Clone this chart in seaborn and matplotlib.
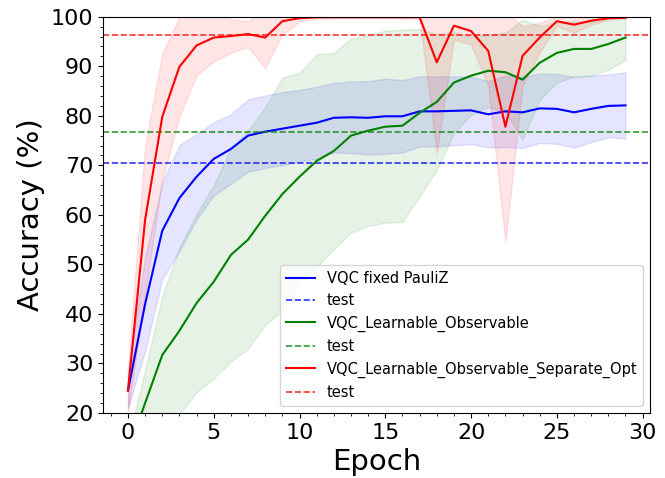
import numpy as np
import matplotlib
matplotlib.use("Agg")
import matplotlib.pyplot as plt
from matplotlib.ticker import MultipleLocator
import seaborn as sns

# Mean accuracy per epoch and spread (std) for each model
epochs = np.arange(30)

fixed_mean = [24.5, 42, 56.8, 63.4, 67.7, 71.3, 73.3, 76, 76.8, 77.4, 78, 78.6, 79.6, 79.7, 79.6,
              79.9, 79.9, 80.9, 80.9, 81, 81.1, 80.3, 80.9, 80.7, 81.5, 81.4, 80.7, 81.4, 82, 82.1]
fixed_std = [3.5, 9.5, 9.8, 10.7, 8.6, 7.4, 7, 7.3, 7.3, 7.4, 7.2, 7.3, 7, 7.25, 7.4,
             7.6, 7.3, 7.1, 7.05, 6.95, 6.8, 6.7, 7.2, 7.2, 7, 7.05, 7.15, 6.7, 6.35, 6.65]

learn_mean = [12, 22, 31.7, 36.6, 42.2, 46.5, 51.9, 55, 59.8, 64.2, 67.7, 70.9, 72.9, 76, 77,
              77.8, 78, 80.6, 82.8, 86.7, 88.1, 89.1, 88.8, 87.3, 90.7, 92.7, 93.5, 93.5, 94.5, 95.8]
learn_std = [2.4, 6.7, 12, 16.8, 18, 19.5, 21.5, 22, 22, 23.5, 21, 21.5, 19.8, 19.6, 19.2,
             19.4, 19.4, 16.9, 13.7, 10.2, 7.9, 7.3, 8, 12.1, 7.5, 6, 5.6, 5.4, 5.2, 4.5]

sep_mean = [24.5, 59, 79.8, 89.9, 94.2, 95.8, 96.1, 96.5, 95.8, 99.1, 99.7, 99.9, 99.9, 99.9, 99.9,
            99.9, 99.9, 99.9, 90.8, 98.2, 97.1, 93.1, 77.8, 92.1, 95.8, 99.1, 98.4, 99.2, 99.7, 99.8]
sep_std = [4.5, 15, 12.8, 10, 6, 4.8, 3.4, 2.6, 6.2, 2.7, 0.6, 0.3, 0.2, 0.2, 0.2,
           0.2, 0.2, 0.3, 18.3, 2.8, 2.7, 7, 23.2, 6, 3, 1, 1.6, 0.8, 0.3, 0.2]

# test accuracy of each model
test_acc = [70.5, 76.8, 96.4]

labels = ["VQC fixed PauliZ", "VQC_Learnable_Observable", "VQC_Learnable_Observable_Separate_Opt"]
colors = ["blue", "green", "red"]
means = [fixed_mean, learn_mean, sep_mean]
stds = [fixed_std, learn_std, sep_std]

fig = plt.figure(figsize=(6.65, 4.78), dpi=100)
ax = fig.add_axes([0.155, 0.136, 0.823, 0.829])

for lab, col, m, s, t in zip(labels, colors, means, stds, test_acc):
    m = np.array(m)
    s = np.array(s)
    sns.lineplot(x=epochs, y=m, color=col, label=lab, linewidth=1.5, ax=ax)
    ax.fill_between(epochs, m - s, m + s, color=col, alpha=0.1)
    ax.axhline(t, color=col, linestyle="--", linewidth=1.2, alpha=0.8, label="test")

ax.set_ylim(20, 100)
ax.set_xlim(-1.45, 30.45)
ax.xaxis.set_major_locator(MultipleLocator(5))
ax.xaxis.set_minor_locator(MultipleLocator(1))
ax.yaxis.set_major_locator(MultipleLocator(10))
ax.yaxis.set_minor_locator(MultipleLocator(2))
ax.tick_params(axis="both", which="major", labelsize=16)
ax.set_xlabel("Epoch", fontsize=21)
ax.set_ylabel("Accuracy (%)", fontsize=21)
ax.legend(loc="lower right", fontsize=10.5)

fig.savefig("out.png", dpi=100)
